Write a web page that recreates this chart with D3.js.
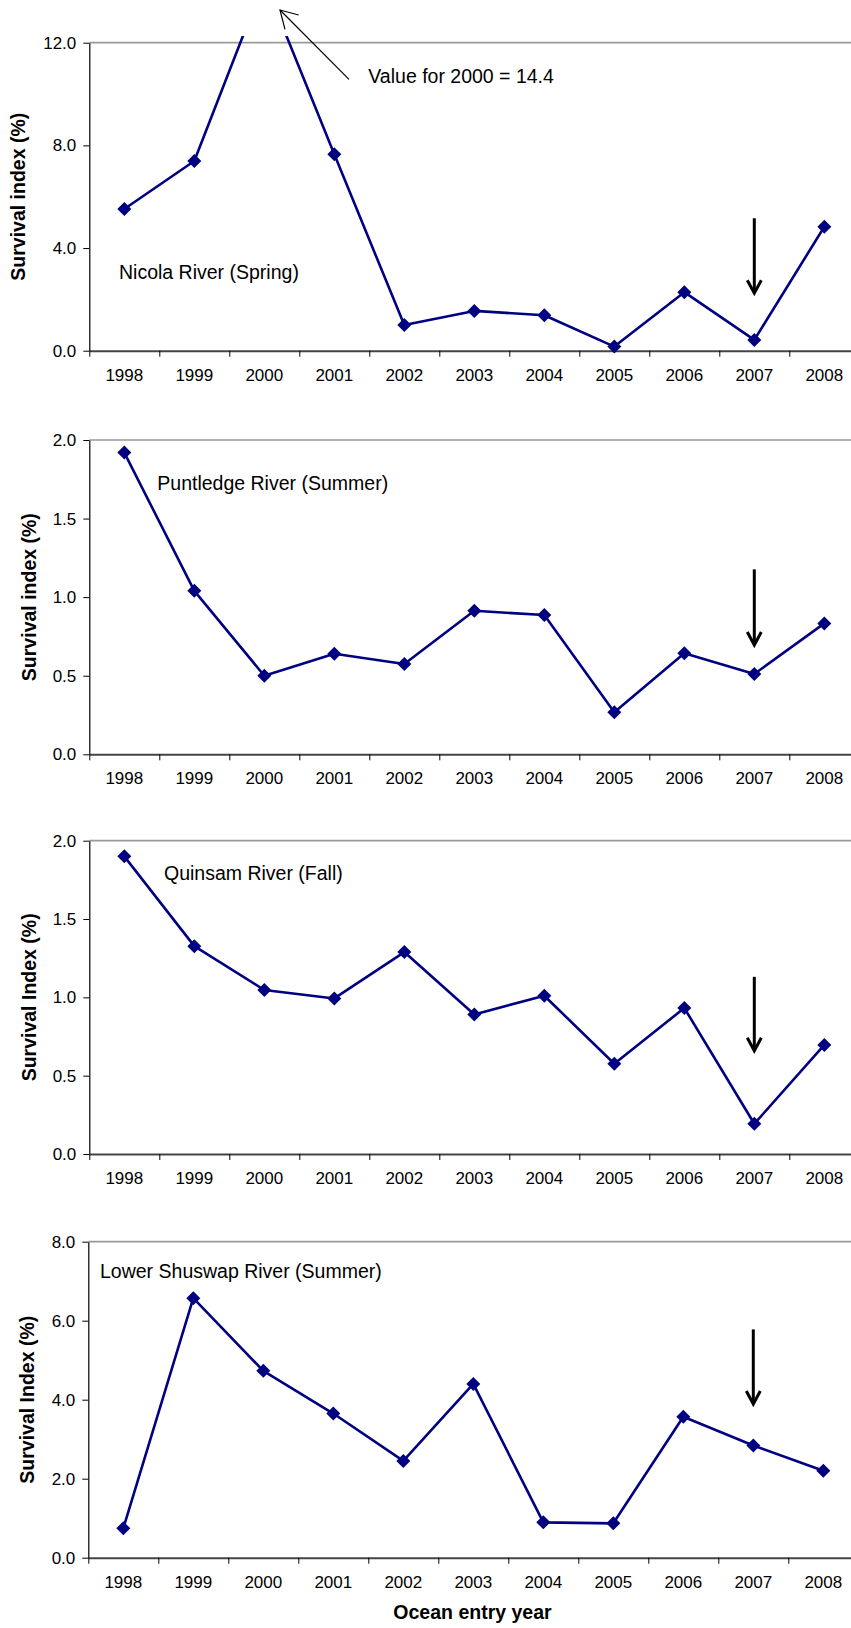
<!DOCTYPE html>
<html>
<head>
<meta charset="utf-8">
<script src="https://cdn.jsdelivr.net/npm/d3@7"></script>
<style>
  body { margin: 0; background: #fff; }
  svg { display: block; font-family: "Liberation Sans", Arial, sans-serif; }
</style>
</head>
<body>
<script>
// ocean entry years
const years = ['1998', '1999', '2000', '2001', '2002', '2003', '2004', '2005', '2006', '2007', '2008'];

// survival index (%) by stock
const nicola = [5.52, 7.39, 14.4, 7.65, 1.0, 1.55, 1.38, 0.16, 2.28, 0.42, 4.83];
const puntledge = [1.92, 1.04, 0.50, 0.64, 0.575, 0.913, 0.886, 0.267, 0.643, 0.511, 0.833];
const quinsam = [1.90, 1.327, 1.047, 0.993, 1.289, 0.891, 1.01, 0.576, 0.932, 0.193, 0.696];
const shuswap = [0.744, 6.57, 4.73, 3.65, 2.45, 4.40, 0.895, 0.87, 3.57, 2.84, 2.20];

// y-axis tick values
const ticksNicola = [0, 4, 8, 12];
const ticksSmall = [0, 0.5, 1.0, 1.5, 2.0];
const ticksShuswap = [0, 2, 4, 6, 8];

const W = 851, H = 1628;
const bandW = 70;
const navy = '#000080';

const panels = [
  { values: nicola, ticks: ticksNicola, top: 42.7, bottom: 350.7, left: 89.3, clipTop: 36,
    yTitle: 'Survival index (%)', titleX: 18.3,
    label: 'Nicola River (Spring)', labelX: 119, labelY: 279,
    arrow: [5.16, 2.24] },
  { values: puntledge, ticks: ticksSmall, top: 440, bottom: 754.3, left: 89.3,
    yTitle: 'Survival index (%)', titleX: 29,
    label: 'Puntledge River (Summer)', labelX: 157.3, labelY: 490,
    arrow: [1.177, 0.695] },
  { values: quinsam, ticks: ticksSmall, top: 840.7, bottom: 1154, left: 89.3,
    yTitle: 'Survival Index (%)', titleX: 29,
    label: 'Quinsam River (Fall)', labelX: 164, labelY: 880,
    arrow: [1.131, 0.659] },
  { values: shuswap, ticks: ticksShuswap, top: 1241.7, bottom: 1557.7, left: 88.3,
    yTitle: 'Survival Index (%)', titleX: 26.7,
    label: 'Lower Shuswap River (Summer)', labelX: 100, labelY: 1277.7,
    arrow: [5.78, 3.89] }
];

const svg = d3.select('body').append('svg')
  .attr('width', W)
  .attr('height', H);

const defs = svg.append('defs');

panels.forEach((p, i) => {
  const right = p.left + years.length * bandW;
  const x = d3.scaleBand().domain(years).range([p.left, right]);
  const xIdx = d3.scaleLinear().domain([0, years.length]).range([p.left, right]);
  const y = d3.scaleLinear().domain([0, d3.max(p.ticks)]).range([p.bottom, p.top]);
  const cx = d => x(d) + x.bandwidth() / 2;

  const g = svg.append('g');

  // top gridline
  g.append('line')
    .attr('x1', p.left).attr('x2', right)
    .attr('y1', y(d3.max(p.ticks))).attr('y2', y(d3.max(p.ticks)))
    .attr('stroke', '#9a9a9a').attr('stroke-width', 1.7);

  // y axis
  const ya = g.append('g')
    .attr('transform', 'translate(' + p.left + ',0)')
    .call(d3.axisLeft(y).tickValues(p.ticks).tickFormat(d3.format('.1f')).tickSizeInner(6).tickSizeOuter(0).tickPadding(7));
  ya.select('.domain').attr('stroke', '#000').attr('stroke-width', 1.2);
  ya.selectAll('.tick line').attr('stroke', '#000');
  ya.selectAll('text').attr('font-size', 17).attr('fill', '#000');

  // x axis: tick marks on band edges
  const xt = g.append('g')
    .attr('transform', 'translate(0,' + p.bottom + ')')
    .call(d3.axisBottom(xIdx).tickValues(d3.range(0, years.length + 1)).tickFormat('').tickSizeInner(6).tickSizeOuter(0));
  xt.select('.domain').attr('stroke', '#444').attr('stroke-width', 2);
  xt.selectAll('.tick line').attr('stroke', '#000');

  // x axis labels at band centres
  const xl = g.append('g')
    .attr('transform', 'translate(0,' + p.bottom + ')')
    .call(d3.axisBottom(x).tickSize(0).tickPadding(18));
  xl.select('.domain').remove();
  xl.selectAll('text').attr('font-size', 17).attr('fill', '#000');

  // y title
  g.append('text')
    .attr('transform', 'translate(' + p.titleX + ',' + ((p.top + p.bottom) / 2) + ') rotate(-90)')
    .attr('text-anchor', 'middle')
    .attr('dy', '0.35em')
    .attr('font-size', 19.5)
    .attr('font-weight', 'bold')
    .text(p.yTitle);

  // series
  const clipId = 'clip' + i;
  defs.append('clipPath').attr('id', clipId)
    .append('rect')
    .attr('x', p.left).attr('y', p.clipTop || (p.top - 8))
    .attr('width', right - p.left)
    .attr('height', p.bottom + 10 - (p.clipTop || (p.top - 8)));

  const data = years.map((yr, j) => ({ yr: yr, v: p.values[j] }));
  const series = g.append('g').attr('clip-path', 'url(#' + clipId + ')');

  series.append('path')
    .datum(data)
    .attr('fill', 'none')
    .attr('stroke', navy)
    .attr('stroke-width', 2.6)
    .attr('stroke-linejoin', 'round')
    .attr('d', d3.line().x(d => cx(d.yr)).y(d => y(d.v)));

  series.selectAll('path.pt')
    .data(data)
    .enter().append('path')
    .attr('class', 'pt')
    .attr('fill', navy)
    .attr('d', d => {
      const px = cx(d.yr), py = y(d.v), r = 7;
      return 'M' + px + ',' + (py - r) + 'L' + (px + r) + ',' + py + 'L' + px + ',' + (py + r) + 'L' + (px - r) + ',' + py + 'Z';
    });

  // stock label
  g.append('text')
    .attr('x', p.labelX).attr('y', p.labelY)
    .attr('font-size', 19.5)
    .attr('fill', '#000')
    .text(p.label);

  // arrow over 2007
  const ax = cx('2007');
  const y0 = y(p.arrow[0]), y1 = y(p.arrow[1]);
  g.append('line')
    .attr('x1', ax).attr('x2', ax).attr('y1', y0).attr('y2', y1 - 1)
    .attr('stroke', '#000').attr('stroke-width', 3);
  g.append('path')
    .attr('d', 'M' + (ax - 7) + ',' + (y1 - 13) + 'L' + ax + ',' + y1 + 'L' + (ax + 7) + ',' + (y1 - 13))
    .attr('fill', 'none').attr('stroke', '#000').attr('stroke-width', 3);
});

// note for Nicola 2000 value
svg.append('line')
  .attr('x1', 349).attr('y1', 79.3).attr('x2', 280).attr('y2', 10)
  .attr('stroke', '#000').attr('stroke-width', 1.2);
svg.append('path')
  .attr('d', 'M298.7,15 L280,10 L285,29.3')
  .attr('fill', 'none').attr('stroke', '#000').attr('stroke-width', 1.2);
svg.append('text')
  .attr('x', 368.3).attr('y', 83.3)
  .attr('font-size', 19.5)
  .text('Value for 2000 = 14.4');

// x title
svg.append('text')
  .attr('x', 472.5).attr('y', 1619)
  .attr('text-anchor', 'middle')
  .attr('font-size', 19.5)
  .attr('font-weight', 'bold')
  .text('Ocean entry year');
</script>
</body>
</html>
